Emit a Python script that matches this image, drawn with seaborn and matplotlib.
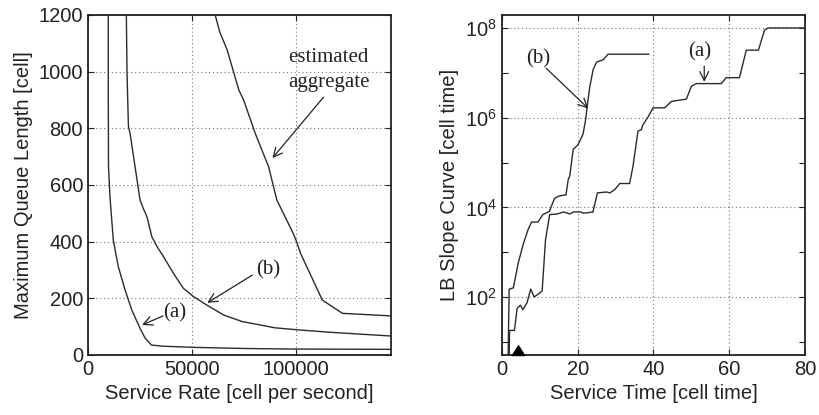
import numpy as np
import pandas as pd
import matplotlib
matplotlib.use("Agg")
import matplotlib.pyplot as plt
from matplotlib.path import Path
from matplotlib.ticker import FixedLocator, NullFormatter, LogFormatterMathtext
import seaborn as sns

# ---- left panel: maximum queue length vs. service rate ----
rate_a = [9800, 9800, 9900, 10600, 12200, 14600, 17900, 21100, 25100, 27500,
          30600, 36200, 50500, 75000, 98000, 146000]
queue_a = [1200, 900, 665, 559, 406, 312, 229, 159, 94, 60,
           35, 31, 27, 23, 21, 20]

rate_b = [18500, 18800, 19500, 20300, 22700, 25100, 26500, 28400, 30800, 33500,
          36400, 41200, 46000, 50900, 57300, 65400, 74300, 83000, 90000, 102400,
          117000, 146000]
queue_b = [1200, 1000, 806, 782, 664, 547, 520, 488, 417, 380,
           347, 288, 235, 206, 176, 141, 118, 106, 96, 88,
           80, 67]

rate_agg = [61300, 63500, 67100, 72700, 75000, 80600, 87000, 91000, 98900, 100500,
            102400, 112900, 122600, 145900]
queue_agg = [1200, 1140, 1076, 935, 900, 782, 665, 547, 429, 400,
             359, 194, 147, 138]

# ---- right panel: LB slope curve vs. service time ----
time_a = [1.8, 2.0, 3.3, 4.0, 4.9, 5.5, 6.6, 7.6, 8.5, 10.6,
          11.5, 12.6, 14.5, 16.3, 17.9, 18.9, 20.7, 21.6, 23.5, 24.0,
          25.2, 27.6, 28.5, 29.8, 31.1, 33.7, 34.6, 35.9, 36.8, 37.2,
          38.6, 39.9, 43.0, 44.7, 48.7, 50.0, 51.3, 57.9, 59.2, 62.7,
          64.5, 67.7, 69.3, 70.2, 80.0]
slope_a = [1, 18, 18, 56, 66, 52, 74, 151, 100, 135,
           1900, 6900, 7100, 7900, 7100, 7900, 7900, 7400, 7800, 7800,
           21000, 22000, 21000, 25000, 34000, 34000, 83000, 5.0e5, 5.4e5, 6.9e5,
           1.05e6, 1.66e6, 1.66e6, 2.3e6, 2.6e6, 5.0e6, 5.75e6, 5.75e6, 7.8e6, 7.8e6,
           3.2e7, 3.2e7, 8.9e7, 1.0e8, 1.0e8]

time_b = [1.5, 1.9, 3.0, 4.3, 5.6, 6.9, 7.8, 9.5, 10.8, 12.5,
          13.9, 15.2, 16.9, 17.5, 17.9, 18.8, 20.1, 21.4, 22.1, 22.5,
          23.2, 24.1, 25.0, 26.7, 28.0, 38.8]
slope_b = [1, 150, 160, 575, 1500, 3200, 4700, 4700, 6900, 8100,
           16000, 18000, 19000, 42000, 50000, 1.95e5, 2.5e5, 4.3e5, 9.1e5, 1.8e6,
           5.0e6, 1.2e7, 1.74e7, 1.95e7, 2.6e7, 2.6e7]

marker_time = [4.3]

sns.set_style("ticks")
plt.rcParams["font.family"] = ["Liberation Sans", "DejaVu Sans"]
plt.rcParams["mathtext.default"] = "regular"

LINE = "#2b2b2b"
SERIF = ["Liberation Serif", "DejaVu Serif"]
TICK_FS = 14.5
LABEL_FS = 14.5
NOTE_FS = 15

fig = plt.figure(figsize=(8.19, 4.15), dpi=100)
ax1 = fig.add_axes([0.1074, 0.1446, 0.370, 0.8193])
ax2 = fig.add_axes([0.6129, 0.1446, 0.370, 0.8193])

df_left = pd.concat([
    pd.DataFrame({"rate": rate_a, "queue": queue_a, "curve": "a"}),
    pd.DataFrame({"rate": rate_b, "queue": queue_b, "curve": "b"}),
    pd.DataFrame({"rate": rate_agg, "queue": queue_agg, "curve": "agg"}),
])
sns.lineplot(data=df_left, x="rate", y="queue", units="curve", estimator=None,
             sort=False, color=LINE, lw=1.0, ax=ax1)

df_right = pd.concat([
    pd.DataFrame({"t": time_a, "s": slope_a, "curve": "a"}),
    pd.DataFrame({"t": time_b, "s": slope_b, "curve": "b"}),
])
sns.lineplot(data=df_right, x="t", y="s", units="curve", estimator=None,
             sort=False, color=LINE, lw=1.0, ax=ax2)

# left axes styling
ax1.set_xlim(0, 146000)
ax1.set_ylim(0, 1200)
ax1.set_xticks([0, 50000, 100000])
ax1.set_yticks(range(0, 1201, 200))
ax1.set_xlabel("Service Rate [cell per second]", fontsize=LABEL_FS)
ax1.set_ylabel("Maximum Queue Length [cell]", fontsize=LABEL_FS)

# right axes styling
ax2.set_yscale("log")
ax2.set_xlim(0, 80)
ax2.set_ylim(5.1, 1.95e8)
ax2.set_xticks([0, 20, 40, 60, 80])
ax2.yaxis.set_major_locator(FixedLocator([1e2, 1e4, 1e6, 1e8]))
ax2.yaxis.set_major_formatter(LogFormatterMathtext())
ax2.yaxis.set_minor_locator(FixedLocator([1e1, 1e3, 1e5, 1e7]))
ax2.yaxis.set_minor_formatter(NullFormatter())
ax2.set_xlabel("Service Time [cell time]", fontsize=LABEL_FS)
ax2.set_ylabel("LB Slope Curve [cell time]", fontsize=LABEL_FS)

for ax in (ax1, ax2):
    ax.grid(True, which="major", linestyle=(0, (1, 2.5)), color="#777777", lw=0.8)
    ax.tick_params(which="both", direction="in", top=True, right=True,
                   length=4, width=0.8, color="#222222", labelsize=TICK_FS,
                   labelcolor="#222222")
    for sp in ax.spines.values():
        sp.set_visible(True)
        sp.set_color("#222222")
        sp.set_linewidth(1.3)
    ax.xaxis.label.set_color("#222222")
    ax.yaxis.label.set_color("#222222")

# triangle marker sitting on the bottom edge of the right panel
tri = Path([(-1, 0), (1, 0), (0, 1.6), (-1, 0)],
           [Path.MOVETO, Path.LINETO, Path.LINETO, Path.CLOSEPOLY])
ax2.plot(marker_time, [ax2.get_ylim()[0]], linestyle="none", marker=tri,
         markersize=14, color="black", clip_on=False, zorder=5)

arrow = dict(arrowstyle="->", lw=0.9, color="#222222", shrinkA=0, shrinkB=0,
             mutation_scale=16)

# annotations, left
ax1.text(116000, 1006, "estimated\naggregate", family=SERIF, fontsize=NOTE_FS,
         ha="center", va="center", linespacing=1.4, color="#222222")
ax1.annotate("", xy=(88900, 695), xytext=(113500, 910), arrowprops=arrow)
ax1.text(87000, 300, "(b)", family=SERIF, fontsize=NOTE_FS, ha="center",
         va="center", color="#222222")
ax1.annotate("", xy=(57500, 184), xytext=(79200, 282), arrowprops=arrow)
ax1.text(42000, 148, "(a)", family=SERIF, fontsize=NOTE_FS, ha="center",
         va="center", color="#222222")
ax1.annotate("", xy=(26100, 106), xytext=(36200, 138), arrowprops=arrow)

# annotations, right
ax2.text(9.6, 2.0e7, "(b)", family=SERIF, fontsize=NOTE_FS, ha="center",
         va="center", color="#222222")
ax2.annotate("", xy=(22.8, 1.6e6), xytext=(11.7, 1.26e7), arrowprops=arrow)
ax2.text(52.3, 2.9e7, "(a)", family=SERIF, fontsize=NOTE_FS, ha="center",
         va="center", color="#222222")
ax2.annotate("", xy=(53.4, 6.3e6), xytext=(53.4, 1.4e7), arrowprops=arrow)

fig.savefig("out.png", dpi=100)
